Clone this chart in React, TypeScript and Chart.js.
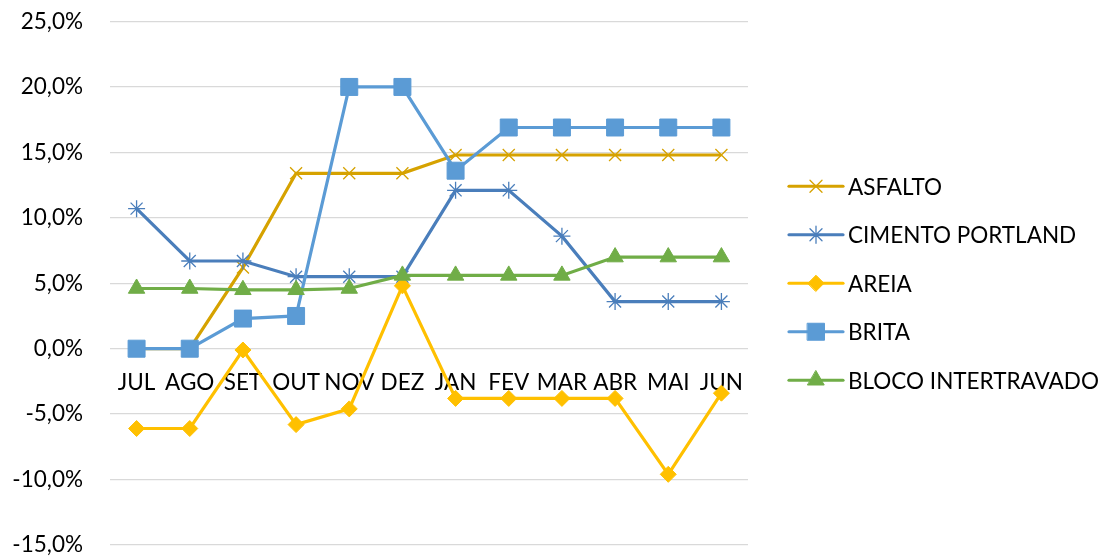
import React, { useEffect, useRef } from 'react';
import { Chart, registerables } from 'chart.js';
import { drawPoint } from 'chart.js/helpers';

Chart.register(...registerables);

const categories = ['JUL', 'AGO', 'SET', 'OUT', 'NOV', 'DEZ', 'JAN', 'FEV', 'MAR', 'ABR', 'MAI', 'JUN'];
const asfalto = [0, 0, 6.2, 13.4, 13.4, 13.4, 14.8, 14.8, 14.8, 14.8, 14.8, 14.8];
const cimento = [10.7, 6.7, 6.7, 5.5, 5.5, 5.5, 12.1, 12.1, 8.6, 3.6, 3.6, 3.6];
const areia = [-6.1, -6.1, -0.1, -5.8, -4.6, 4.8, -3.8, -3.8, -3.8, -3.8, -9.6, -3.4];
const brita = [0, 0, 2.3, 2.5, 20.0, 20.0, 13.6, 16.9, 16.9, 16.9, 16.9, 16.9];
const bloco = [4.6, 4.6, 4.5, 4.5, 4.6, 5.6, 5.6, 5.6, 5.6, 7.0, 7.0, 7.0];
const seriesNames = ['ASFALTO', 'CIMENTO PORTLAND', 'AREIA', 'BRITA', 'BLOCO INTERTRAVADO'];
const yMin = -15;
const yMax = 25;
const yStep = 5;

const FONT = 'Lato, "Liberation Sans", sans-serif';
const FSIZE = 22.5;

const legendPlugin = {
  id: 'sideLegend',
  afterDraw(chart: any) {
    const ctx = chart.ctx;
    const area = chart.chartArea;
    const ds = chart.data.datasets;
    const spacing = 48.5;
    const cy = (area.top + area.bottom) / 2;
    const x0 = area.right + 41;
    const x1 = x0 + 54;
    ctx.save();
    ds.forEach((d: any, i: number) => {
      const y = cy + (i - (ds.length - 1) / 2) * spacing;
      ctx.beginPath();
      ctx.strokeStyle = d.borderColor;
      ctx.lineWidth = d.borderWidth;
      ctx.lineCap = 'round';
      ctx.moveTo(x0, y);
      ctx.lineTo(x1, y);
      ctx.stroke();
      ctx.fillStyle = d.pointBackgroundColor;
      ctx.strokeStyle = d.pointBorderColor;
      ctx.lineWidth = d.pointBorderWidth;
      drawPoint(ctx, { pointStyle: d.pointStyle, rotation: 0, borderWidth: d.pointBorderWidth, radius: d.pointRadius }, (x0 + x1) / 2, y);
      ctx.fillStyle = '#000';
      ctx.font = FSIZE + 'px ' + FONT;
      ctx.textAlign = 'left';
      ctx.textBaseline = 'middle';
      ctx.fillText(d.label, x1 + 5, y + 1);
    });
    ctx.restore();
  },
};

export default function App() {
  const ref = useRef<HTMLCanvasElement | null>(null);
  useEffect(() => {
    if (!ref.current) return;
    const mk = (label: string, data: number[], color: string, style: string, radius: number, bw: number, order: number) => ({
      label,
      data,
      borderColor: color,
      backgroundColor: color,
      borderWidth: 3.2,
      pointStyle: style,
      pointRadius: radius,
      pointHoverRadius: radius,
      pointBackgroundColor: color,
      pointBorderColor: color,
      pointBorderWidth: bw,
      tension: 0,
      order,
    });
    const chart = new Chart(ref.current, {
      type: 'line',
      data: {
        labels: categories,
        datasets: [
          mk(seriesNames[0], asfalto, '#D6A200', 'crossRot', 8.5, 1.3, 5),
          mk(seriesNames[1], cimento, '#4A7EBB', 'star', 8.5, 1.3, 4),
          mk(seriesNames[2], areia, '#FFC000', 'rectRot', 8, 1, 3),
          mk(seriesNames[3], brita, '#5B9BD5', 'rect', 12, 1, 2),
          mk(seriesNames[4], bloco, '#70AD47', 'triangle', 9.5, 1, 1),
        ] as any,
      },
      options: {
        animation: false,
        responsive: false,
        devicePixelRatio: 1,
        layout: { padding: { top: 21.5, right: 359, bottom: 12, left: 0 } },
        plugins: { legend: { display: false }, tooltip: { enabled: false } },
        scales: {
          x: {
            type: 'category',
            offset: true,
            position: { y: 0 } as any,
            afterFit: (s: any) => { s.height = 0; s.paddingTop = 0; s.paddingBottom = 0; s.paddingLeft = 0; s.paddingRight = 0; },
            grid: { display: false, drawTicks: false },
            border: { display: false },
            ticks: { color: '#000', font: { family: FONT, size: FSIZE }, padding: 21, maxRotation: 0, autoSkip: false },
          },
          y: {
            min: yMin,
            max: yMax,
            afterFit: (s: any) => { s.width = 110; s.paddingTop = 0; s.paddingBottom = 0; },
            grid: { color: '#D9D9D9', lineWidth: 1.3, drawTicks: false },
            border: { display: false },
            ticks: {
              stepSize: yStep,
              padding: 27,
              color: '#000',
              font: { family: FONT, size: FSIZE },
              callback: (v: any) => Number(v).toFixed(1).replace('.', ',') + '%',
            },
          },
        },
      },
      plugins: [legendPlugin],
    });
    return () => chart.destroy();
  }, []);
  return (
    <div style={{ position: 'absolute', left: 0, top: 0, width: 1107, height: 558, background: '#fff' }}>
      <canvas ref={ref} width={1107} height={558} style={{ display: 'block' }} />
    </div>
  );
}
